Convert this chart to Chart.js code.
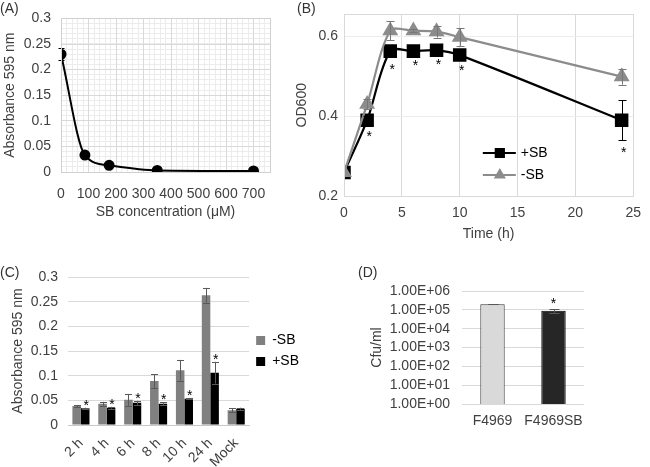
<!DOCTYPE html>
<html>
<head>
<meta charset="utf-8">
<script src="https://cdn.jsdelivr.net/npm/chart.js@4/dist/chart.umd.min.js"></script>
<style>
body { margin: 0; background: #fff; font-family: "Liberation Sans", Arial, sans-serif; }
#wrap { position: relative; width: 650px; height: 467px; overflow: hidden; }
canvas { position: absolute; }
.lab { position: absolute; font-size: 14px; color: #333; line-height: 16px; }
</style>
</head>
<body>
<div id="wrap">
  <canvas id="chartA" width="290" height="225" style="left:0;top:0"></canvas>
  <canvas id="chartB" width="360" height="245" style="left:290px;top:0"></canvas>
  <canvas id="chartC" width="325" height="222" style="left:0;top:245px"></canvas>
  <canvas id="chartD" width="325" height="222" style="left:325px;top:245px"></canvas>
  <div class="lab" style="left:0;top:0">(A)</div>
  <div class="lab" style="left:297px;top:0">(B)</div>
  <div class="lab" style="left:0;top:264px">(C)</div>
  <div class="lab" style="left:358px;top:264px">(D)</div>
</div>
<script>
// (A) biofilm vs SB concentration
var concA = [0, 87, 175, 350, 700];
var absA = [0.230, 0.033, 0.013, 0.003, 0.002];
var errA = [0.012, 0.002, 0.001, 0.001, 0.001];

// (B) growth curves
var timeB = [0, 2, 4, 6, 8, 10, 24];
var plusSB = [0.259, 0.390, 0.563, 0.563, 0.565, 0.553, 0.390];
var plusSBerr = [0, 0.010, 0.015, 0.005, 0.005, 0.006, 0.050];
var minusSB = [0.259, 0.430, 0.614, 0.614, 0.612, 0.598, 0.499];
var minusSBerr = [0, 0.012, 0.024, 0.004, 0.015, 0.022, 0.020];
var starsB = [false, true, true, true, true, true, true];

// (C) biofilm over time
var catC = ['2 h', '4 h', '6 h', '8 h', '10 h', '24 h', 'Mock'];
var minusC = [0.0385, 0.043, 0.051, 0.089, 0.111, 0.263, 0.030];
var minusCerr = [0.002, 0.004, 0.012, 0.014, 0.021, 0.015, 0.004];
var plusC = [0.034, 0.035, 0.045, 0.043, 0.053, 0.106, 0.033];
var plusCerr = [0.001, 0.002, 0.004, 0.003, 0.001, 0.022, 0.002];
var starsC = [true, true, true, true, true, true, false];

// (D) cfu counts
var strainD = ['F4969', 'F4969SB'];
var cfuD = [2.0e5, 9.0e4];
var cfuDerr = [5e3, 2e4];
var starsD = [false, true];
var decadesD = [1, 10, 100, 1e3, 1e4, 1e5, 1e6];

Chart.defaults.font.family = '"Liberation Sans", Arial, sans-serif';
Chart.defaults.font.size = 14;
Chart.defaults.color = '#404040';
Chart.defaults.animation = false;
Chart.defaults.responsive = false;
Chart.defaults.plugins.tooltip.enabled = false;

// error bars + significance stars, read from dataset.errors / dataset.stars
var errorBars = {
    id: 'errorBars',
    afterDatasetsDraw: function(chart) {
        var ctx = chart.ctx;
        chart.data.datasets.forEach(function(ds, i) {
            if (!ds.errors) return;
            var meta = chart.getDatasetMeta(i);
            var ys = chart.scales[meta.yAxisID];
            ctx.save();
            ctx.strokeStyle = ds.errorColor || '#000';
            ctx.lineWidth = 1;
            meta.data.forEach(function(el, j) {
                var raw = ds.data[j];
                var v = (typeof raw === 'object') ? raw.y : raw;
                var e = ds.errors[j];
                var x = Math.round(el.x) + 0.5;
                var yt = ys.getPixelForValue(v + e);
                var yb = ys.getPixelForValue(v - e);
                var cap = ds.errorCap || 4;
                if (e > 0) {
                    ctx.beginPath();
                    ctx.moveTo(x, yt); ctx.lineTo(x, yb);
                    ctx.moveTo(x - cap, Math.round(yt) + 0.5); ctx.lineTo(x + cap, Math.round(yt) + 0.5);
                    ctx.moveTo(x - cap, Math.round(yb) + 0.5); ctx.lineTo(x + cap, Math.round(yb) + 0.5);
                    ctx.stroke();
                }
                if (ds.stars && ds.stars[j]) {
                    ctx.fillStyle = '#000';
                    ctx.font = '14px "Liberation Sans", Arial, sans-serif';
                    ctx.textAlign = 'center';
                    ctx.textBaseline = 'alphabetic';
                    var sy = ds.starBelow ? yb + ds.starOffset : yt + ds.starOffset;
                    ctx.fillText('*', el.x + (ds.starDx || 0), sy);
                }
            });
            ctx.restore();
        });
    }
};

var frame = {
    id: 'frame',
    afterDraw: function(chart, args, opts) {
        if (!opts.color) return;
        var a = chart.chartArea, ctx = chart.ctx;
        ctx.save();
        ctx.strokeStyle = opts.color;
        ctx.lineWidth = 1;
        ctx.strokeRect(Math.round(a.left) + 0.5, Math.round(a.top) + 0.5,
            Math.round(a.right - a.left), Math.round(a.bottom - a.top));
        ctx.restore();
    }
};

// legend inside the plot of (B): short line with marker, then label
var lineLegend = {
    id: 'lineLegend',
    afterDraw: function(chart) {
        var a = chart.chartArea, ctx = chart.ctx;
        var x0 = a.left + 0.48 * (a.right - a.left);
        chart.data.datasets.forEach(function(ds, i) {
            var y = a.bottom - 43 + i * 22;
            ctx.save();
            ctx.strokeStyle = ds.borderColor;
            ctx.fillStyle = ds.backgroundColor;
            ctx.lineWidth = 2;
            ctx.beginPath();
            ctx.moveTo(x0, y); ctx.lineTo(x0 + 33, y);
            ctx.stroke();
            Chart.helpers.drawPoint(ctx, {pointStyle: ds.pointStyle, radius: ds.pointStyle === 'rect' ? 5.8 : 5, borderWidth: 1}, x0 + 17, y);
            ctx.fillStyle = '#000';
            ctx.font = '14px "Liberation Sans", Arial, sans-serif';
            ctx.textBaseline = 'middle';
            ctx.fillText(ds.label, x0 + 38, y);
            ctx.restore();
        });
    }
};

function fixWidth(w) { return function(s) { s.width = w; }; }
function fixHeight(h) { return function(s) { s.height = h; }; }

// ---------- (A)
new Chart(document.getElementById('chartA'), {
    type: 'line',
    data: {
        datasets: [{
            data: concA.map(function(c, i) { return {x: c, y: absA[i]}; }),
            errors: errA,
            errorCap: 3,
            borderColor: '#000',
            backgroundColor: '#000',
            borderWidth: 2,
            pointRadius: 4.5,
            cubicInterpolationMode: 'monotone',
            tension: 0.4
        }]
    },
    options: {
        layout: {padding: {top: 14, right: 20, left: 0, bottom: 0}},
        plugins: {legend: {display: false}, frame: {color: '#d0d0d0'}},
        scales: {
            x: {
                type: 'linear', min: 0, max: 760,
                afterFit: fixHeight(53),
                ticks: {stepSize: 100, includeBounds: false, maxRotation: 0, padding: 14},
                grid: {drawTicks: false, color: '#d9d9d9', z: -1},
                border: {color: '#d0d0d0'},
                title: {display: true, text: 'SB concentration (μM)', padding: {top: 2, bottom: 4}}
            },
            xMinor: {
                type: 'linear', position: 'bottom', min: 0, max: 760, weight: 5,
                afterFit: fixHeight(0),
                ticks: {stepSize: 20, display: false, autoSkip: false},
                grid: {drawTicks: false, color: '#ececec', z: -2},
                border: {display: false}
            },
            y: {
                min: 0, max: 0.3,
                afterFit: fixWidth(61),
                ticks: {
                    stepSize: 0.05, padding: 10,
                    callback: function(v) { return String(Math.round(v * 100) / 100); }
                },
                grid: {drawTicks: false, color: '#d9d9d9', z: -1},
                border: {color: '#d0d0d0'},
                title: {display: true, text: 'Absorbance 595 nm', padding: {top: 2, bottom: 2}}
            },
            yMinor: {
                type: 'linear', position: 'left', min: 0, max: 0.3, weight: 5,
                afterFit: fixWidth(0),
                ticks: {stepSize: 0.01, display: false, autoSkip: false},
                grid: {drawTicks: false, color: '#ececec', z: -2},
                border: {display: false}
            }
        }
    },
    plugins: [errorBars, frame]
});

// ---------- (B)
new Chart(document.getElementById('chartB'), {
    type: 'line',
    data: {
        datasets: [{
            label: '+SB',
            data: timeB.map(function(t, i) { return {x: t, y: plusSB[i]}; }),
            errors: plusSBerr,
            errorColor: '#000',
            stars: starsB,
            starBelow: true,
            starOffset: 17,
            starDx: 2,
            borderColor: '#000',
            backgroundColor: '#000',
            borderWidth: 2.2,
            pointStyle: 'rect',
            pointRadius: 8,
            tension: 0.3,
            order: 2
        }, {
            label: '-SB',
            data: timeB.map(function(t, i) { return {x: t, y: minusSB[i]}; }),
            errors: minusSBerr,
            errorColor: '#777',
            borderColor: '#8c8c8c',
            backgroundColor: '#8c8c8c',
            borderWidth: 2.2,
            pointStyle: 'triangle',
            pointRadius: 7,
            tension: 0.3,
            order: 1
        }]
    },
    options: {
        layout: {padding: {top: 12, right: 8, left: 0, bottom: 0}},
        plugins: {legend: {display: false}, frame: {color: '#d9d9d9'}},
        scales: {
            x: {
                type: 'linear', min: 0, max: 25,
                afterFit: fixHeight(49),
                ticks: {stepSize: 5, padding: 9, maxRotation: 0},
                grid: {drawTicks: false, color: '#d9d9d9'},
                border: {color: '#d9d9d9'},
                title: {display: true, text: 'Time (h)', padding: {top: 2, bottom: 2}}
            },
            y: {
                min: 0.2, max: 0.655,
                afterFit: fixWidth(54),
                ticks: {
                    stepSize: 0.2, includeBounds: false, padding: 6,
                    callback: function(v) { return v.toFixed(1); }
                },
                grid: {drawTicks: false, color: '#ececec'},
                border: {color: '#d9d9d9'},
                title: {display: true, text: 'OD600', padding: {top: 4, bottom: 2}}
            }
        }
    },
    plugins: [frame, errorBars, lineLegend]
});

// ---------- (C)
new Chart(document.getElementById('chartC'), {
    type: 'bar',
    data: {
        labels: catC,
        datasets: [{
            label: '-SB',
            data: minusC,
            errors: minusCerr,
            errorColor: '#595959',
            errorCap: 3.5,
            backgroundColor: '#808080',
            categoryPercentage: 0.66,
            barPercentage: 1.0
        }, {
            label: '+SB',
            data: plusC,
            errors: plusCerr,
            errorColor: '#595959',
            errorCap: 3.5,
            stars: starsC,
            starOffset: 2,
            starDx: 1,
            backgroundColor: '#000',
            categoryPercentage: 0.66,
            barPercentage: 1.0
        }]
    },
    options: {
        layout: {padding: {top: 32, right: 16, left: 6, bottom: 0}},
        plugins: {
            legend: {
                position: 'right',
                fullSize: false,
                labels: {boxWidth: 9, boxHeight: 9, padding: 7, color: '#000'}
            }
        },
        scales: {
            x: {
                afterFit: fixHeight(42),
                ticks: {minRotation: 45, maxRotation: 45, padding: 2, autoSkip: false},
                grid: {display: false},
                border: {color: '#c8c8c8'}
            },
            y: {
                min: 0, max: 0.3,
                afterFit: fixWidth(62),
                ticks: {stepSize: 0.05, padding: 10, callback: function(v) { return String(Math.round(v * 100) / 100); }},
                grid: {drawTicks: false, color: '#d9d9d9'},
                border: {display: false},
                title: {display: true, text: 'Absorbance 595 nm', padding: {top: 4, bottom: 2}}
            }
        }
    },
    plugins: [errorBars]
});

// ---------- (D)
new Chart(document.getElementById('chartD'), {
    type: 'bar',
    data: {
        labels: strainD,
        datasets: [{
            data: cfuD,
            errors: cfuDerr,
            errorColor: '#595959',
            errorCap: 5,
            stars: starsD,
            starOffset: -1,
            backgroundColor: ['#d9d9d9', '#262626'],
            borderColor: ['#303030', '#000'],
            borderWidth: 1,
            categoryPercentage: 1.0,
            barPercentage: 0.4
        }]
    },
    options: {
        layout: {padding: {top: 46, right: 66, left: 40, bottom: 0}},
        plugins: {legend: {display: false}},
        scales: {
            x: {
                afterFit: fixHeight(63),
                ticks: {padding: 9, maxRotation: 0, autoSkip: false},
                grid: {display: false, drawTicks: false},
                border: {display: false}
            },
            y: {
                type: 'logarithmic', min: 1, max: 1e6,
                afterFit: fixWidth(97),
                afterBuildTicks: function(s) {
                    s.ticks = decadesD.map(function(v) { return {value: v}; });
                },
                ticks: {
                    padding: 12, autoSkip: false,
                    callback: function(v) {
                        var p = Math.round(Math.log10(v));
                        return '1.00E+' + (p < 10 ? '0' : '') + p;
                    }
                },
                grid: {drawTicks: false, color: '#d9d9d9'},
                border: {display: false},
                title: {display: true, text: 'Cfu/ml', padding: {top: 4, bottom: 2}}
            }
        }
    },
    plugins: [errorBars]
});
</script>
</body>
</html>
